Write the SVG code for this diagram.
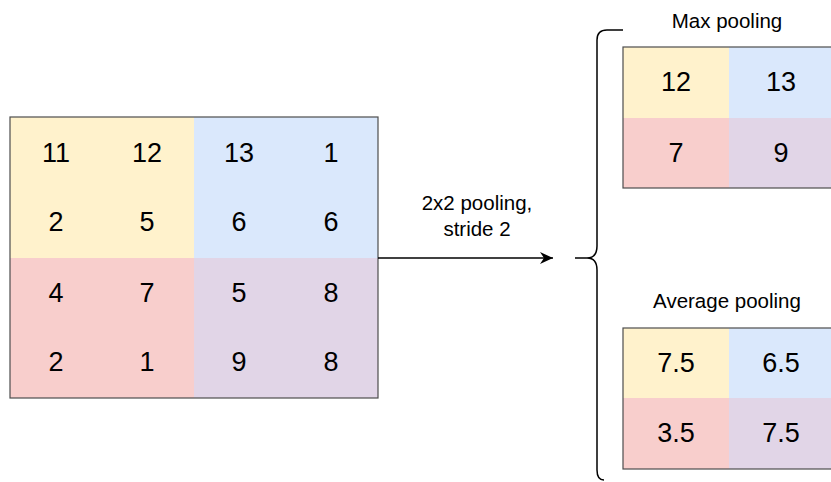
<svg xmlns="http://www.w3.org/2000/svg" width="831" height="482" viewBox="0 0 831 482">
<style>
text{font-family:"Liberation Sans",Arial,sans-serif;fill:#000;text-anchor:middle;dominant-baseline:central}
.n{font-size:27px}
.l{font-size:20.5px}
.y{fill:#fff2cc}.b{fill:#dae8fc}.r{fill:#f8cecc}.p{fill:#e1d5e7}
.frame{fill:none;stroke:#4d4d4d;stroke-width:1.2}
</style>
<defs>
<marker id="ah" markerWidth="14" markerHeight="12" refX="13" refY="6" orient="auto" markerUnits="userSpaceOnUse">
<path d="M0,0 L13,6 L0,12 L4,6 Z" fill="#000"/>
</marker>
</defs>
<g id="input">
<rect class="y" x="10" y="117" width="184" height="141"/>
<rect class="b" x="194" y="117" width="184" height="141"/>
<rect class="r" x="10" y="258" width="184" height="140"/>
<rect class="p" x="194" y="258" width="184" height="140"/>
<rect class="frame" x="10" y="117" width="368" height="281"/>
<text class="n" x="56" y="153">11</text><text class="n" x="147" y="153">12</text><text class="n" x="239" y="153">13</text><text class="n" x="331" y="153">1</text>
<text class="n" x="56" y="222">2</text><text class="n" x="147" y="222">5</text><text class="n" x="239" y="222">6</text><text class="n" x="331" y="222">6</text>
<text class="n" x="56" y="293">4</text><text class="n" x="147" y="293">7</text><text class="n" x="239" y="293">5</text><text class="n" x="331" y="293">8</text>
<text class="n" x="56" y="362">2</text><text class="n" x="147" y="362">1</text><text class="n" x="239" y="362">9</text><text class="n" x="331" y="362">8</text>
</g>
<g id="connectors">
<line x1="378" y1="258" x2="553" y2="258" stroke="#000" stroke-width="1.5" marker-end="url(#ah)"/>
<text class="l" x="477" y="202">2x2 pooling,</text>
<text class="l" x="477" y="228">stride 2</text>
</g>
<g id="brace">
<path d="M623,30 L607,30 Q597,30 597,40 L597,246 Q597,258 587,258 L575,258 M587,258 Q597,258 597,270 L597,470 Q597,480 604,480" fill="none" stroke="#000" stroke-width="1.5"/>
</g>
<g id="max-pooling">
<text class="l" x="727" y="20">Max pooling</text>
<rect class="y" x="623" y="47" width="106" height="71"/>
<rect class="b" x="729" y="47" width="106" height="71"/>
<rect class="r" x="623" y="118" width="106" height="70"/>
<rect class="p" x="729" y="118" width="106" height="70"/>
<rect class="frame" x="623" y="47" width="212" height="141"/>
<text class="n" x="676" y="82">12</text><text class="n" x="781" y="82">13</text>
<text class="n" x="676" y="153">7</text><text class="n" x="781" y="153">9</text>
</g>
<g id="average-pooling">
<text class="l" x="727" y="300">Average pooling</text>
<rect class="y" x="623" y="328" width="106" height="70"/>
<rect class="b" x="729" y="328" width="106" height="70"/>
<rect class="r" x="623" y="398" width="106" height="71"/>
<rect class="p" x="729" y="398" width="106" height="71"/>
<rect class="frame" x="623" y="328" width="212" height="141"/>
<text class="n" x="676" y="363">7.5</text><text class="n" x="781" y="363">6.5</text>
<text class="n" x="676" y="433">3.5</text><text class="n" x="781" y="433">7.5</text>
</g>
</svg>
